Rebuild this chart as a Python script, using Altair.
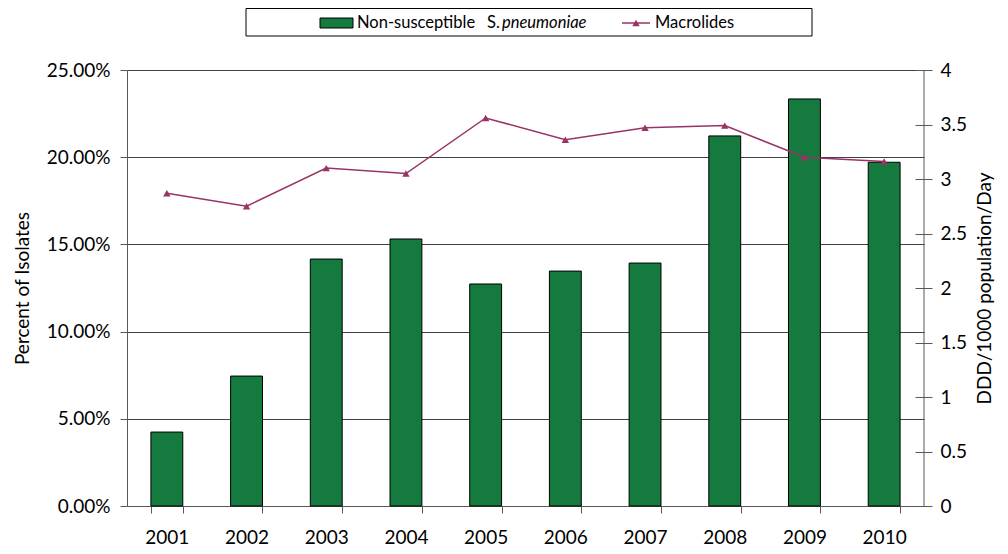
import altair as alt
import pandas as pd

years = ["2001", "2002", "2003", "2004", "2005", "2006", "2007", "2008", "2009", "2010"]
pct_nonsusceptible = [0.0424, 0.0745, 0.1416, 0.1531, 0.1273, 0.1347, 0.1393, 0.2122, 0.2334, 0.1971]
macrolides_ddd = [2.87, 2.75, 3.10, 3.05, 3.56, 3.36, 3.47, 3.49, 3.20, 3.16]

left_ticks = [0, 0.05, 0.10, 0.15, 0.20, 0.25]
right_ticks = [0, 0.5, 1, 1.5, 2, 2.5, 3, 3.5, 4]

GREEN = "#157A3D"
PLUM = "#993366"
AXIS = "#595959"
FONT = "Lato"

df = pd.DataFrame({"year": years, "pct": pct_nonsusceptible, "ddd": macrolides_ddd})
dummy = pd.DataFrame({"k": [0]})

W, H = 797, 436

xenc = alt.X(
    "year:O",
    sort=years,
    scale=alt.Scale(paddingInner=0.6, paddingOuter=0.3),
    axis=alt.Axis(
        title=None, labelAngle=0, tickBand="extent", tickSize=7,
        domainColor=AXIS, tickColor=AXIS, labelFont=FONT, labelFontSize=19,
        labelColor="#000000", labelPadding=15, grid=False,
    ),
)

bars = alt.Chart(df).mark_bar(color=GREEN, stroke="#000000", strokeWidth=1).encode(
    x=xenc,
    y=alt.Y(
        "pct:Q",
        scale=alt.Scale(domain=[0, 0.25], nice=False),
        axis=alt.Axis(
            title="Percent of Isolates", values=left_ticks, format=".2%",
            tickSize=7, domainColor=AXIS, tickColor=AXIS, gridColor="#404040",
            grid=True, labelFont=FONT, labelFontSize=19, labelColor="#000000",
            labelPadding=10, titleFont=FONT, titleFontSize=19, titleFontWeight="normal",
            titleColor="#000000", titlePadding=14,
        ),
    ),
)

line = alt.Chart(df).mark_line(
    color=PLUM, strokeWidth=1.5,
    point=alt.OverlayMarkDef(shape="triangle-up", size=55, color=PLUM, filled=True),
).encode(
    x=alt.X("year:O", sort=years),
    y=alt.Y(
        "ddd:Q",
        scale=alt.Scale(domain=[0, 4], nice=False),
        axis=alt.Axis(
            orient="right", title="DDD/1000 population/Day", values=right_ticks,
            format="~g", offset=-9, tickSize=17, domain=False, tickColor=AXIS,
            grid=False, labelFont=FONT, labelFontSize=19, labelColor="#000000",
            labelPadding=8, titleFont=FONT, titleFontSize=19, titleFontWeight="normal",
            titleColor="#000000", titleAngle=270, titlePadding=28,
        ),
    ),
)

right_edge = alt.Chart(dummy).mark_rule(color=AXIS, strokeWidth=1).encode(
    x=alt.value(W), y=alt.value(0), y2=alt.value(H)
)

legend_box = alt.Chart(dummy).mark_rect(fill="white", stroke="#000000", strokeWidth=1).encode(
    x=alt.value(119), x2=alt.value(685), y=alt.value(-61.5), y2=alt.value(-34)
)
legend_swatch = alt.Chart(dummy).mark_rect(fill=GREEN, stroke="#000000", strokeWidth=1).encode(
    x=alt.value(193), x2=alt.value(226), y=alt.value(-52), y2=alt.value(-42)
)
legend_line = alt.Chart(dummy).mark_rule(color=PLUM, strokeWidth=1.5).encode(
    x=alt.value(495), x2=alt.value(523), y=alt.value(-47)
)
legend_tri = alt.Chart(dummy).mark_point(shape="triangle-up", size=55, color=PLUM, filled=True, opacity=1).encode(
    x=alt.value(509), y=alt.value(-47)
)

def ltext(txt, x, italic=False):
    return alt.Chart(dummy).mark_text(
        text=txt, align="left", baseline="middle", font=FONT, fontSize=16.5,
        fontStyle="italic" if italic else "normal", color="#000000",
    ).encode(x=alt.value(x), y=alt.value(-47.5))

legend = (legend_box + legend_swatch + legend_line + legend_tri
          + ltext("Non-susceptible", 230) + ltext("S.", 360)
          + ltext("pneumoniae", 375, italic=True) + ltext("Macrolides", 528))

chart = alt.layer(bars, line, right_edge, legend).resolve_scale(y="independent").properties(
    width=W, height=H,
    autosize=alt.AutoSizeParams(type="none"),
    padding={"left": 119, "top": 62, "right": 76, "bottom": 40},
).configure_view(stroke=None)

chart.save("out.html", embed_options={"renderer": "svg", "actions": False})
